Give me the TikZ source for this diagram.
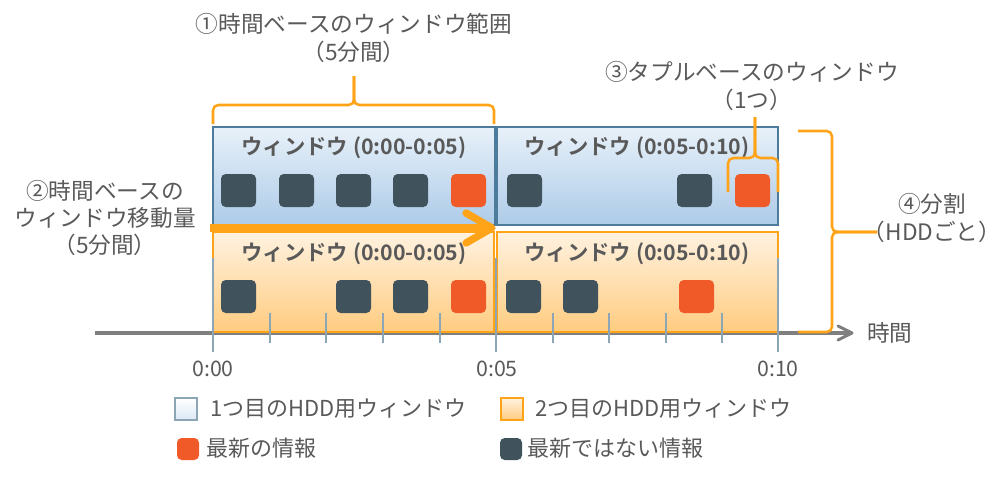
\documentclass[tikz,border=0pt]{standalone}
\usepackage{fontspec}
\setmainfont{Noto Sans CJK JP}[BoldFont={Noto Sans CJK JP Bold}]
\definecolor{txtgray}{HTML}{595959}
\definecolor{braceor}{HTML}{FFA319}
\definecolor{redsq}{HTML}{F05A28}
\definecolor{darksq}{HTML}{40535D}
\definecolor{blueedge}{HTML}{4C7B9C}
\definecolor{bluetop}{HTML}{E8F1F9}
\definecolor{bluebot}{HTML}{ADCBE8}
\definecolor{ortop}{HTML}{FFF2E0}
\definecolor{orbot}{HTML}{FFCC80}
\definecolor{tickc}{HTML}{8DA6B6}
\definecolor{axisc}{HTML}{7F7F7F}
\begin{document}
\begin{tikzpicture}[x=0.75pt,y=-0.75pt,
  lbl/.style={text=txtgray, font=\fontsize{17}{20.5}\selectfont, align=center, inner sep=0pt},
  winlbl/.style={text=txtgray, font=\fontsize{16}{18}\selectfont\bfseries, inner sep=0pt},
  leg/.style={text=txtgray, font=\fontsize{16.5}{18}\selectfont, anchor=west, inner sep=0pt},
  axlbl/.style={text=txtgray, font=\fontsize{16}{18}\selectfont, inner sep=0pt},
  bracep/.style={draw=braceor, line width=1.9pt, rounded corners=4pt},
  dsq/.style={fill=darksq, rounded corners=3.5pt},
  rsq/.style={fill=redsq, rounded corners=3.5pt},
  tickl/.style={draw=tickc, line width=1.8pt},
  bluebox/.style={draw=blueedge, line width=1.5pt},
  orbox/.style={draw=braceor, line width=1.5pt}]
\useasboundingbox (0,0) rectangle (1005,478);

% time axis
\draw[axisc, line width=2.3pt] (95,333) -- (850,333);
\draw[axisc, line width=2.3pt, line cap=round, line join=round] (838,326) -- (852,333) -- (838,340);
\node[lbl, anchor=west] (jikan) at (867,333) {時間};

% orange (2nd HDD) windows
\shade[top color=ortop, bottom color=orbot] (213,232) rectangle (494,332);
\draw[orbox] (213,232) rectangle (494,332);
\shade[top color=ortop, bottom color=orbot] (497,232) rectangle (778,332);
\draw[orbox] (497,232) rectangle (778,332);

% ticks
\foreach \x in {213,496,778} \draw[tickl] (\x,258) -- (\x,352);
\foreach \x in {270,326,383,440,553,609,666,722} \draw[tickl] (\x,313) -- (\x,343);

% blue (1st HDD) windows
\shade[top color=bluetop, bottom color=bluebot] (213,127) rectangle (495,225);
\draw[bluebox] (213,127) rectangle (495,225);
\shade[top color=bluetop, bottom color=bluebot] (497,127) rectangle (778,225);
\draw[bluebox] (497,127) rectangle (778,225);

% window labels
\node[winlbl] (wa) at (354,148) {ウィンドウ (0:00-0:05)};
\node[winlbl] (wb) at (637,148) {ウィンドウ (0:05-0:10)};
\node[winlbl] (wc) at (354,254) {ウィンドウ (0:00-0:05)};
\node[winlbl] (wd) at (637,254) {ウィンドウ (0:05-0:10)};

% data squares, top row
\foreach \x in {221,279,336,393,507,677} \fill[dsq] (\x,174) rectangle ++(35,33);
\foreach \x in {451,735} \fill[rsq] (\x,174) rectangle ++(35,33);
% data squares, bottom row
\foreach \x in {221,336,393,506,563} \fill[dsq] (\x,280) rectangle ++(35,33);
\foreach \x in {451,679} \fill[rsq] (\x,280) rectangle ++(35,33);

% movement arrow
\draw[braceor, line width=5.5pt] (210,228) -- (488,228);
\draw[braceor, line width=5.5pt, line cap=round, line join=round] (466,213) -- (492,228) -- (466,243);

% braces
\coordinate (b1) at (354,76);
\draw[bracep] (213,124) |- (354,105) -- (b1);
\draw[bracep] (494,124) |- (354,105) -- (b1);
\coordinate (b3) at (755,117);
\draw[bracep] (728,192) |- (755,158) -- (b3);
\draw[bracep] (778,192) |- (755,158) -- (b3);
\coordinate (b4) at (877,232);
\draw[bracep] (798,131) -| (832,232) -- (b4);
\draw[bracep] (798,332) -| (832,232) -- (b4);

% annotations
\node[lbl] (t1) at (354,38) {①時間ベースのウィンドウ範囲\\（5分間）};
\node[lbl] (t2) at (105,218) {②時間ベースの\\ウィンドウ移動量\\（5分間）};
\node[lbl] (t3) at (752,86) {③タプルベースのウィンドウ\\（1つ）};
\node[lbl] (t4) at (932,218) {④分割\\（HDDごと）};

% axis labels
\node[axlbl] (x0) at (213,369) {0:00};
\node[axlbl] (x5) at (497,369) {0:05};
\node[axlbl] (x10) at (778,369) {0:10};

% legend
\shade[top color=white, bottom color=bluetop!80!bluebot] (175,398) rectangle (197,420);
\draw[tickc, line width=1.6pt] (175,398) rectangle (197,420);
\node[leg] (l1) at (210,409) {1つ目のHDD用ウィンドウ};
\shade[top color=ortop, bottom color=orbot] (501,398) rectangle (523,420);
\draw[braceor, line width=1.6pt] (501,398) rectangle (523,420);
\node[leg] (l2) at (535,409) {2つ目のHDD用ウィンドウ};
\fill[rsq] (177,438) rectangle (199,460);
\node[leg] (l3) at (206,448) {最新の情報};
\fill[dsq] (500,438) rectangle (522,460);
\node[leg] (l4) at (527,448) {最新ではない情報};
\end{tikzpicture}
\end{document}
